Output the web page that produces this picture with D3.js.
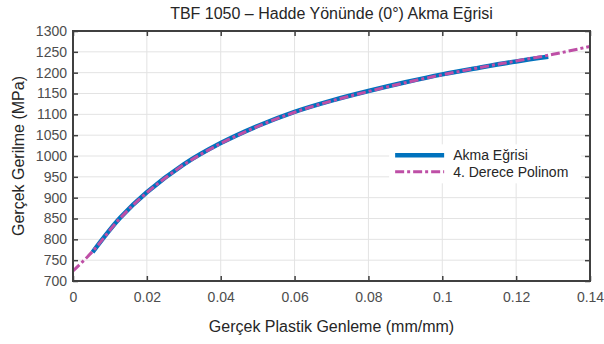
<!DOCTYPE html>
<html>
<head>
<meta charset="utf-8">
<script src="https://cdn.jsdelivr.net/npm/d3@7"></script>
<style>
  body { margin: 0; background: #fff; }
  svg { font-family: "Liberation Sans", Arial, sans-serif; }
</style>
</head>
<body>
<div id="chart"></div>
<script>
var svgWidth = 604;
var svgHeight = 344;

var margin = { top: 31, right: 14, bottom: 63, left: 73 };
var width = svgWidth - margin.left - margin.right;
var height = svgHeight - margin.top - margin.bottom;

// data
var strain = [0.0053, 0.0127, 0.02, 0.03, 0.04, 0.05, 0.06, 0.07, 0.08, 0.09, 0.10, 0.11, 0.12, 0.1287];
var stress = [769, 851, 913, 980, 1031, 1072, 1106, 1133, 1156, 1177, 1196, 1212, 1227, 1238];

var polyStrain = [0, 0.0053, 0.0127, 0.02, 0.03, 0.04, 0.05, 0.06, 0.07, 0.08, 0.09, 0.10, 0.11, 0.12, 0.13, 0.14];
var polyStress = [724, 771, 850, 912, 979, 1030, 1071, 1105, 1132, 1155, 1176, 1195, 1212, 1228, 1244, 1263];

var xTicks = [0, 0.02, 0.04, 0.06, 0.08, 0.1, 0.12, 0.14];
var yTicks = [700, 750, 800, 850, 900, 950, 1000, 1050, 1100, 1150, 1200, 1250, 1300];

var seriesNames = ["Akma Eğrisi", "4. Derece Polinom"];

var svg = d3.select("#chart")
  .append("svg")
  .attr("width", svgWidth)
  .attr("height", svgHeight);

var chartGroup = svg.append("g")
  .attr("transform", `translate(${margin.left}, ${margin.top})`);

var xScale = d3.scaleLinear().domain([0, 0.14]).range([0, width]);
var yScale = d3.scaleLinear().domain([700, 1300]).range([height, 0]);

// grid
chartGroup.append("g")
  .selectAll("line.gx")
  .data(xTicks)
  .enter()
  .append("line")
  .attr("x1", d => xScale(d))
  .attr("x2", d => xScale(d))
  .attr("y1", 0)
  .attr("y2", height)
  .attr("stroke", "#e3e3e3")
  .attr("stroke-width", 1);

chartGroup.append("g")
  .selectAll("line.gy")
  .data(yTicks)
  .enter()
  .append("line")
  .attr("x1", 0)
  .attr("x2", width)
  .attr("y1", d => yScale(d))
  .attr("y2", d => yScale(d))
  .attr("stroke", "#e3e3e3")
  .attr("stroke-width", 1);

// lines
var pts = strain.map((d, i) => [d, stress[i]]);
var polyPts = polyStrain.map((d, i) => [d, polyStress[i]]);

var line = d3.line()
  .x(d => xScale(d[0]))
  .y(d => yScale(d[1]))
  .curve(d3.curveCatmullRom.alpha(0.5));

chartGroup.append("path")
  .datum(pts)
  .attr("d", line)
  .attr("fill", "none")
  .attr("stroke", "#0072BD")
  .attr("stroke-width", 4.5);

chartGroup.append("path")
  .datum(polyPts)
  .attr("d", line)
  .attr("fill", "none")
  .attr("stroke", "#BE4FA6")
  .attr("stroke-width", 3)
  .attr("stroke-dasharray", "9,3,3,3");

// axes
var tickColor = "#404040";

function styleAxis(g) {
  g.select(".domain").remove();
  g.selectAll("line").attr("stroke", tickColor).attr("stroke-width", 1.5);
  g.selectAll("text")
    .attr("fill", "#4d4d4d")
    .style("font-size", "14px");
}

chartGroup.append("g")
  .attr("transform", `translate(0, ${height})`)
  .call(d3.axisBottom(xScale).tickValues(xTicks).tickSize(-5).tickPadding(11).tickFormat(d => String(d)))
  .call(styleAxis);

chartGroup.append("g")
  .call(d3.axisTop(xScale).tickValues(xTicks).tickSize(-5).tickFormat(""))
  .call(styleAxis);

chartGroup.append("g")
  .call(d3.axisLeft(yScale).tickValues(yTicks).tickSize(-5).tickPadding(6).tickFormat(d3.format("d")))
  .call(styleAxis);

chartGroup.append("g")
  .attr("transform", `translate(${width}, 0)`)
  .call(d3.axisRight(yScale).tickValues(yTicks).tickSize(-5).tickFormat(""))
  .call(styleAxis);

// box
chartGroup.append("rect")
  .attr("x", 0)
  .attr("y", 0)
  .attr("width", width)
  .attr("height", height)
  .attr("fill", "none")
  .attr("stroke", tickColor)
  .attr("stroke-width", 2);

// legend
var legend = chartGroup.append("g")
  .attr("transform", `translate(${xScale(0.1135) - 103}, ${yScale(1028)})`);

legend.append("rect")
  .attr("x", 0)
  .attr("y", 0)
  .attr("width", 192)
  .attr("height", 39)
  .attr("fill", "#fff");

legend.append("line")
  .attr("x1", 6).attr("x2", 55)
  .attr("y1", 11).attr("y2", 11)
  .attr("stroke", "#0072BD")
  .attr("stroke-width", 4.5);

legend.append("line")
  .attr("x1", 6).attr("x2", 55)
  .attr("y1", 27.5).attr("y2", 27.5)
  .attr("stroke", "#BE4FA6")
  .attr("stroke-width", 3)
  .attr("stroke-dasharray", "9,3,3,3");

legend.selectAll("text")
  .data(seriesNames)
  .enter()
  .append("text")
  .attr("x", 64)
  .attr("y", (d, i) => 16 + i * 16.5)
  .attr("fill", "#262626")
  .style("font-size", "14px")
  .text(d => d);

// title and labels
svg.append("text")
  .attr("x", margin.left + width / 2)
  .attr("y", 19)
  .attr("text-anchor", "middle")
  .attr("fill", "#262626")
  .style("font-size", "16px")
  .text("TBF 1050 – Hadde Yönünde (0°) Akma Eğrisi");

svg.append("text")
  .attr("x", margin.left + width / 2)
  .attr("y", 332)
  .attr("text-anchor", "middle")
  .attr("fill", "#262626")
  .style("font-size", "16px")
  .text("Gerçek Plastik Genleme (mm/mm)");

svg.append("text")
  .attr("transform", "rotate(-90)")
  .attr("x", -(margin.top + height / 2))
  .attr("y", 24)
  .attr("text-anchor", "middle")
  .attr("fill", "#262626")
  .style("font-size", "16px")
  .text("Gerçek Gerilme (MPa)");
</script>
</body>
</html>
